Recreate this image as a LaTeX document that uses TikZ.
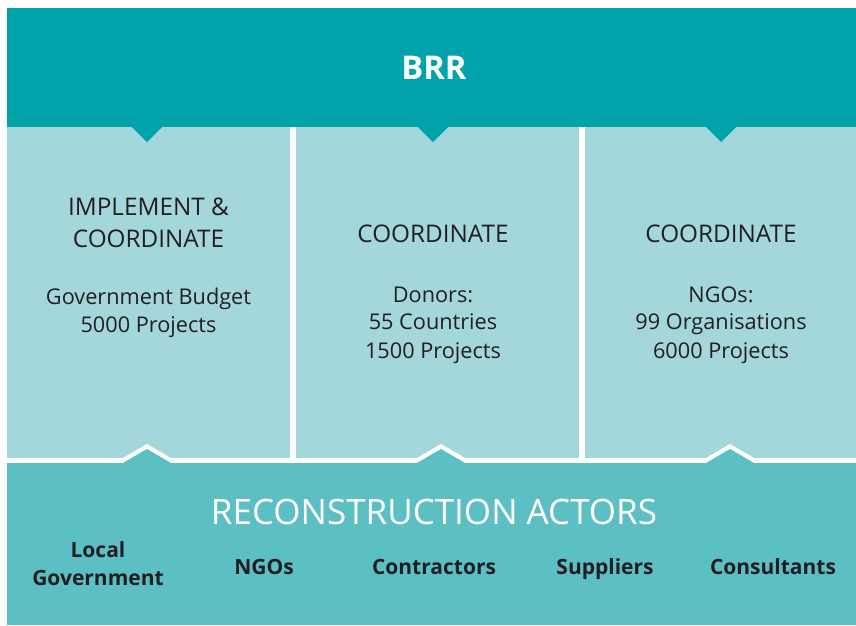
\documentclass[tikz,border=0pt]{standalone}
\usepackage{fontspec}
\setmainfont{Open Sans}
\definecolor{topteal}{HTML}{00A3A9}
\definecolor{lightpanel}{HTML}{A3D7DB}
\definecolor{bottomteal}{HTML}{5BBFC4}
\definecolor{textdark}{HTML}{231F20}
\begin{document}
\begin{tikzpicture}[x=1pt,y=-1pt,
  headtxt/.style={text=textdark,font=\fontsize{24.3}{30}\selectfont,anchor=base,inner sep=0pt},
  bodytxt/.style={text=textdark,font=\fontsize{21.7}{27}\selectfont,anchor=base,inner sep=0pt},
  actortxt/.style={text=textdark,font=\bfseries\fontsize{21}{27}\selectfont,anchor=base,inner sep=0pt}]
\useasboundingbox (0,0) rectangle (856,625);
\fill[white] (0,0) rectangle (856,625);
% bands and panels
\fill[topteal] (7,8) rectangle (856,127);
\fill[lightpanel] (7,127) rectangle (290,457.5);
\fill[lightpanel] (296,127) rectangle (579,457.5);
\fill[lightpanel] (585,127) rectangle (856,457.5);
\fill[bottomteal] (7,463) rectangle (856,625);
% top notches
\foreach \x in {147,433,721}{
  \fill[topteal] (\x-15,127) -- (\x,142) -- (\x+15,127) -- cycle;
}
% bottom notches
\foreach \x in {147,441,730}{
  \fill[white] (\x-24,458) -- (\x,444) -- (\x+24,458) -- cycle;
  \fill[bottomteal] (\x-24,463) -- (\x,449) -- (\x+24,463) -- cycle;
}
% texts
\node[text=white,font=\bfseries\fontsize{32.7}{36}\selectfont,anchor=base,inner sep=0pt] (brrlabel) at (434,79) {BRR};
\node[headtxt] (h1a) at (148.5,215) {IMPLEMENT \&};
\node[headtxt] (h1b) at (148.5,247) {COORDINATE};
\node[bodytxt] (b1a) at (148.5,304) {Government Budget};
\node[bodytxt] (b1b) at (148.5,332) {5000 Projects};
\node[headtxt] (h2) at (433,242) {COORDINATE};
\node[bodytxt] (b2a) at (433,302) {Donors:};
\node[bodytxt] (b2b) at (433,329.5) {55 Countries};
\node[bodytxt] (b2c) at (433,358) {1500 Projects};
\node[headtxt] (h3) at (721,242) {COORDINATE};
\node[bodytxt] (b3a) at (721,302) {NGOs:};
\node[bodytxt] (b3b) at (721,329.5) {99 Organisations};
\node[bodytxt] (b3c) at (721,358) {6000 Projects};
\node[text=white,font=\fontsize{35}{40}\selectfont,anchor=base,inner sep=0pt] (ra) at (434,524) {RECONSTRUCTION ACTORS};
\node[actortxt] (a1a) at (98,557.5) {Local};
\node[actortxt] (a1b) at (98,585.5) {Government};
\node[actortxt] (a2) at (264,574.5) {NGOs};
\node[actortxt] (a3) at (434,574.5) {Contractors};
\node[actortxt] (a4) at (605,574.5) {Suppliers};
\node[actortxt] (a5) at (773,574.5) {Consultants};
\end{tikzpicture}
\end{document}
